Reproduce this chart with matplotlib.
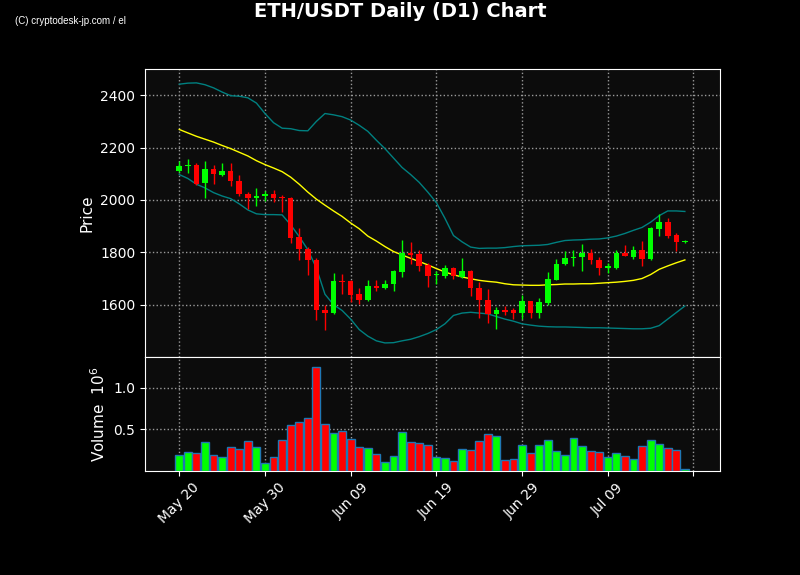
import numpy as np
import pandas as pd
import matplotlib
matplotlib.use("Agg")
import matplotlib.pyplot as plt
import matplotlib.dates as mdates

# daily candles, May 20 -> Jul 18
dates = pd.date_range("2021-05-20", "2021-07-18", freq="D")

opens = [2109, 2128, 2134, 2063, 2118, 2096, 2112, 2073, 2023, 2006,
         2014, 2024, 2010, 2008, 1860, 1814, 1772, 1581, 1568, 1690,
         1689, 1639, 1619, 1673, 1663, 1678, 1724, 1798, 1792, 1750,
         1712, 1710, 1741, 1705, 1728, 1664, 1619, 1564, 1578, 1578,
         1568, 1613, 1568, 1606, 1696, 1754, 1778, 1781, 1799, 1771,
         1740, 1739, 1797, 1784, 1807, 1773, 1888, 1917, 1865, 1839]
highs = [2150, 2156, 2140, 2150, 2132, 2140, 2140, 2095, 2029, 2046,
         2035, 2038, 2019, 2010, 1893, 1822, 1778, 1597, 1722, 1718,
         1695, 1665, 1693, 1693, 1695, 1733, 1848, 1841, 1807, 1758,
         1730, 1750, 1745, 1779, 1733, 1686, 1661, 1591, 1595, 1587,
         1636, 1616, 1627, 1724, 1775, 1804, 1807, 1832, 1813, 1781,
         1760, 1810, 1828, 1826, 1845, 1896, 1947, 1930, 1872, 1846]
lows = [2105, 2103, 2057, 2008, 2061, 2090, 2053, 2016, 1964, 1977,
        1997, 1991, 1953, 1835, 1769, 1715, 1540, 1505, 1563, 1642,
        1610, 1604, 1615, 1651, 1660, 1654, 1705, 1756, 1728, 1667,
        1680, 1703, 1699, 1702, 1634, 1550, 1530, 1509, 1559, 1547,
        1547, 1551, 1551, 1597, 1693, 1750, 1749, 1728, 1756, 1712,
        1722, 1737, 1786, 1775, 1749, 1770, 1863, 1855, 1806, 1837]
closes = [2131, 2134, 2062, 2118, 2098, 2112, 2071, 2021, 2006, 2016,
          2023, 2006, 2006, 1856, 1811, 1771, 1581, 1568, 1689, 1686,
          1637, 1618, 1673, 1663, 1680, 1727, 1798, 1790, 1747, 1709,
          1716, 1741, 1708, 1727, 1663, 1619, 1566, 1578, 1573, 1570,
          1613, 1568, 1610, 1699, 1757, 1779, 1784, 1799, 1769, 1739,
          1746, 1797, 1787, 1807, 1773, 1891, 1917, 1861, 1838, 1844]
# volume in millions
volumes = [0.190, 0.226, 0.214, 0.345, 0.190, 0.167, 0.286, 0.262, 0.357, 0.286,
           0.095, 0.167, 0.369, 0.551, 0.583, 0.643, 1.246, 0.560, 0.456, 0.476,
           0.381, 0.286, 0.274, 0.206, 0.107, 0.179, 0.464, 0.345, 0.333, 0.310,
           0.167, 0.155, 0.119, 0.262, 0.250, 0.357, 0.440, 0.417, 0.131, 0.143,
           0.310, 0.218, 0.310, 0.369, 0.238, 0.190, 0.393, 0.298, 0.238, 0.226,
           0.167, 0.214, 0.179, 0.143, 0.298, 0.369, 0.321, 0.274, 0.250, 0.024]
# 20 day moving average and bollinger bands as drawn
sma20 = [2269, 2256, 2243, 2232, 2221, 2208, 2196, 2182, 2168, 2150,
         2135, 2122, 2108, 2087, 2060, 2030, 2003, 1980, 1958, 1937,
         1912, 1890, 1862, 1843, 1822, 1803, 1790, 1777, 1765, 1752,
         1738, 1725, 1714, 1706, 1699, 1693, 1689, 1686, 1680, 1676,
         1675, 1674, 1674, 1676, 1677, 1679, 1679, 1680, 1680, 1682,
         1684, 1686, 1689, 1693, 1700, 1715, 1735, 1748, 1760, 1771]
upper = [2442, 2446, 2447, 2440, 2428, 2412, 2398, 2396, 2390, 2370,
         2330, 2295, 2274, 2272, 2265, 2264, 2300, 2330, 2325, 2318,
         2305, 2285, 2262, 2228, 2196, 2160, 2124, 2097, 2067, 2030,
         1990, 1930, 1864, 1840, 1820, 1815, 1816, 1816, 1818, 1822,
         1825, 1826, 1827, 1830, 1838, 1845, 1847, 1848, 1850, 1851,
         1855, 1862, 1872, 1884, 1895, 1915, 1940, 1958, 1958, 1956]
lower = [2097, 2082, 2060, 2046, 2028, 2015, 2005, 1985, 1962, 1947,
         1944, 1944, 1943, 1905, 1860, 1810, 1740, 1640, 1600, 1578,
         1545, 1505, 1480, 1462, 1454, 1455, 1462, 1468, 1478, 1490,
         1505, 1527, 1559, 1568, 1571, 1568, 1565, 1555, 1545, 1537,
         1527, 1522, 1518, 1516, 1515, 1515, 1514, 1513, 1512, 1512,
         1511, 1510, 1509, 1508, 1508, 1510, 1520, 1545, 1570, 1595]

UP = "#00ff00"
DOWN = "#ff0000"
BG = "#0c0c0c"

df = pd.DataFrame({"open": opens, "high": highs, "low": lows, "close": closes,
                   "volume": volumes}, index=dates)
x = mdates.date2num(df.index.to_pydatetime())
colors = np.where(df["close"] >= df["open"], UP, DOWN)

fig = plt.figure(figsize=(8, 5.75), dpi=100, facecolor="black")
ax = fig.add_axes([0.18125, 0.379, 0.71875, 0.501])
axv = fig.add_axes([0.18125, 0.181, 0.71875, 0.198], sharex=ax)

for a in (ax, axv):
    a.set_facecolor(BG)
    for s in a.spines.values():
        s.set_color("white")
    a.tick_params(colors="white", labelsize=10)
    a.grid(True, color="#9a9a9a", linestyle=":", linewidth=1)
    a.set_axisbelow(True)

# candles
ax.vlines(x, df["low"], df["high"], colors=colors, linewidth=1, zorder=3)
body_lo = np.minimum(df["open"], df["close"])
body_h = np.maximum(np.abs(df["close"] - df["open"]), 2)
ax.bar(x, body_h, bottom=body_lo, width=0.65, color=colors, zorder=4)

ax.plot(x, sma20, color="#ffff00", linewidth=1, zorder=2)
ax.plot(x, upper, color="#008080", linewidth=1, zorder=2)
ax.plot(x, lower, color="#008080", linewidth=1, zorder=2)

ax.set_ylim(1400, 2500)
ax.set_yticks([1600, 1800, 2000, 2200, 2400])
ax.set_ylabel("Price", color="white", fontsize=11)
ax.tick_params(axis="x", labelbottom=False)

# volume
axv.bar(x, df["volume"], width=0.92, color=colors, edgecolor="#1f77b4",
        linewidth=1, zorder=3)
axv.set_ylim(0, df["volume"].max() * 1.1)
axv.set_yticks([0.5, 1.0])
axv.set_yticklabels(["0.5", "1.0"])
axv.set_ylabel(r"Volume  $10^6$", color="white", fontsize=11)

ticks = pd.date_range(dates[0], periods=7, freq="10D")
axv.set_xticks(mdates.date2num(ticks.to_pydatetime()))
axv.set_xticklabels([t.strftime("%b %d") if t <= dates[-1] else "" for t in ticks],
                    rotation=45)
axv.set_xlim(x[0] - 4.0, x[-1] + 4.1)

fig.suptitle("ETH/USDT Daily (D1) Chart", color="white", fontsize=14,
             fontweight="bold", y=0.997)
fig.text(0.019, 0.963, "(C) cryptodesk-jp.com / el", color="white",
         fontsize=7, va="center", family="Liberation Sans")

fig.savefig("out.png", dpi=100, facecolor="black")
